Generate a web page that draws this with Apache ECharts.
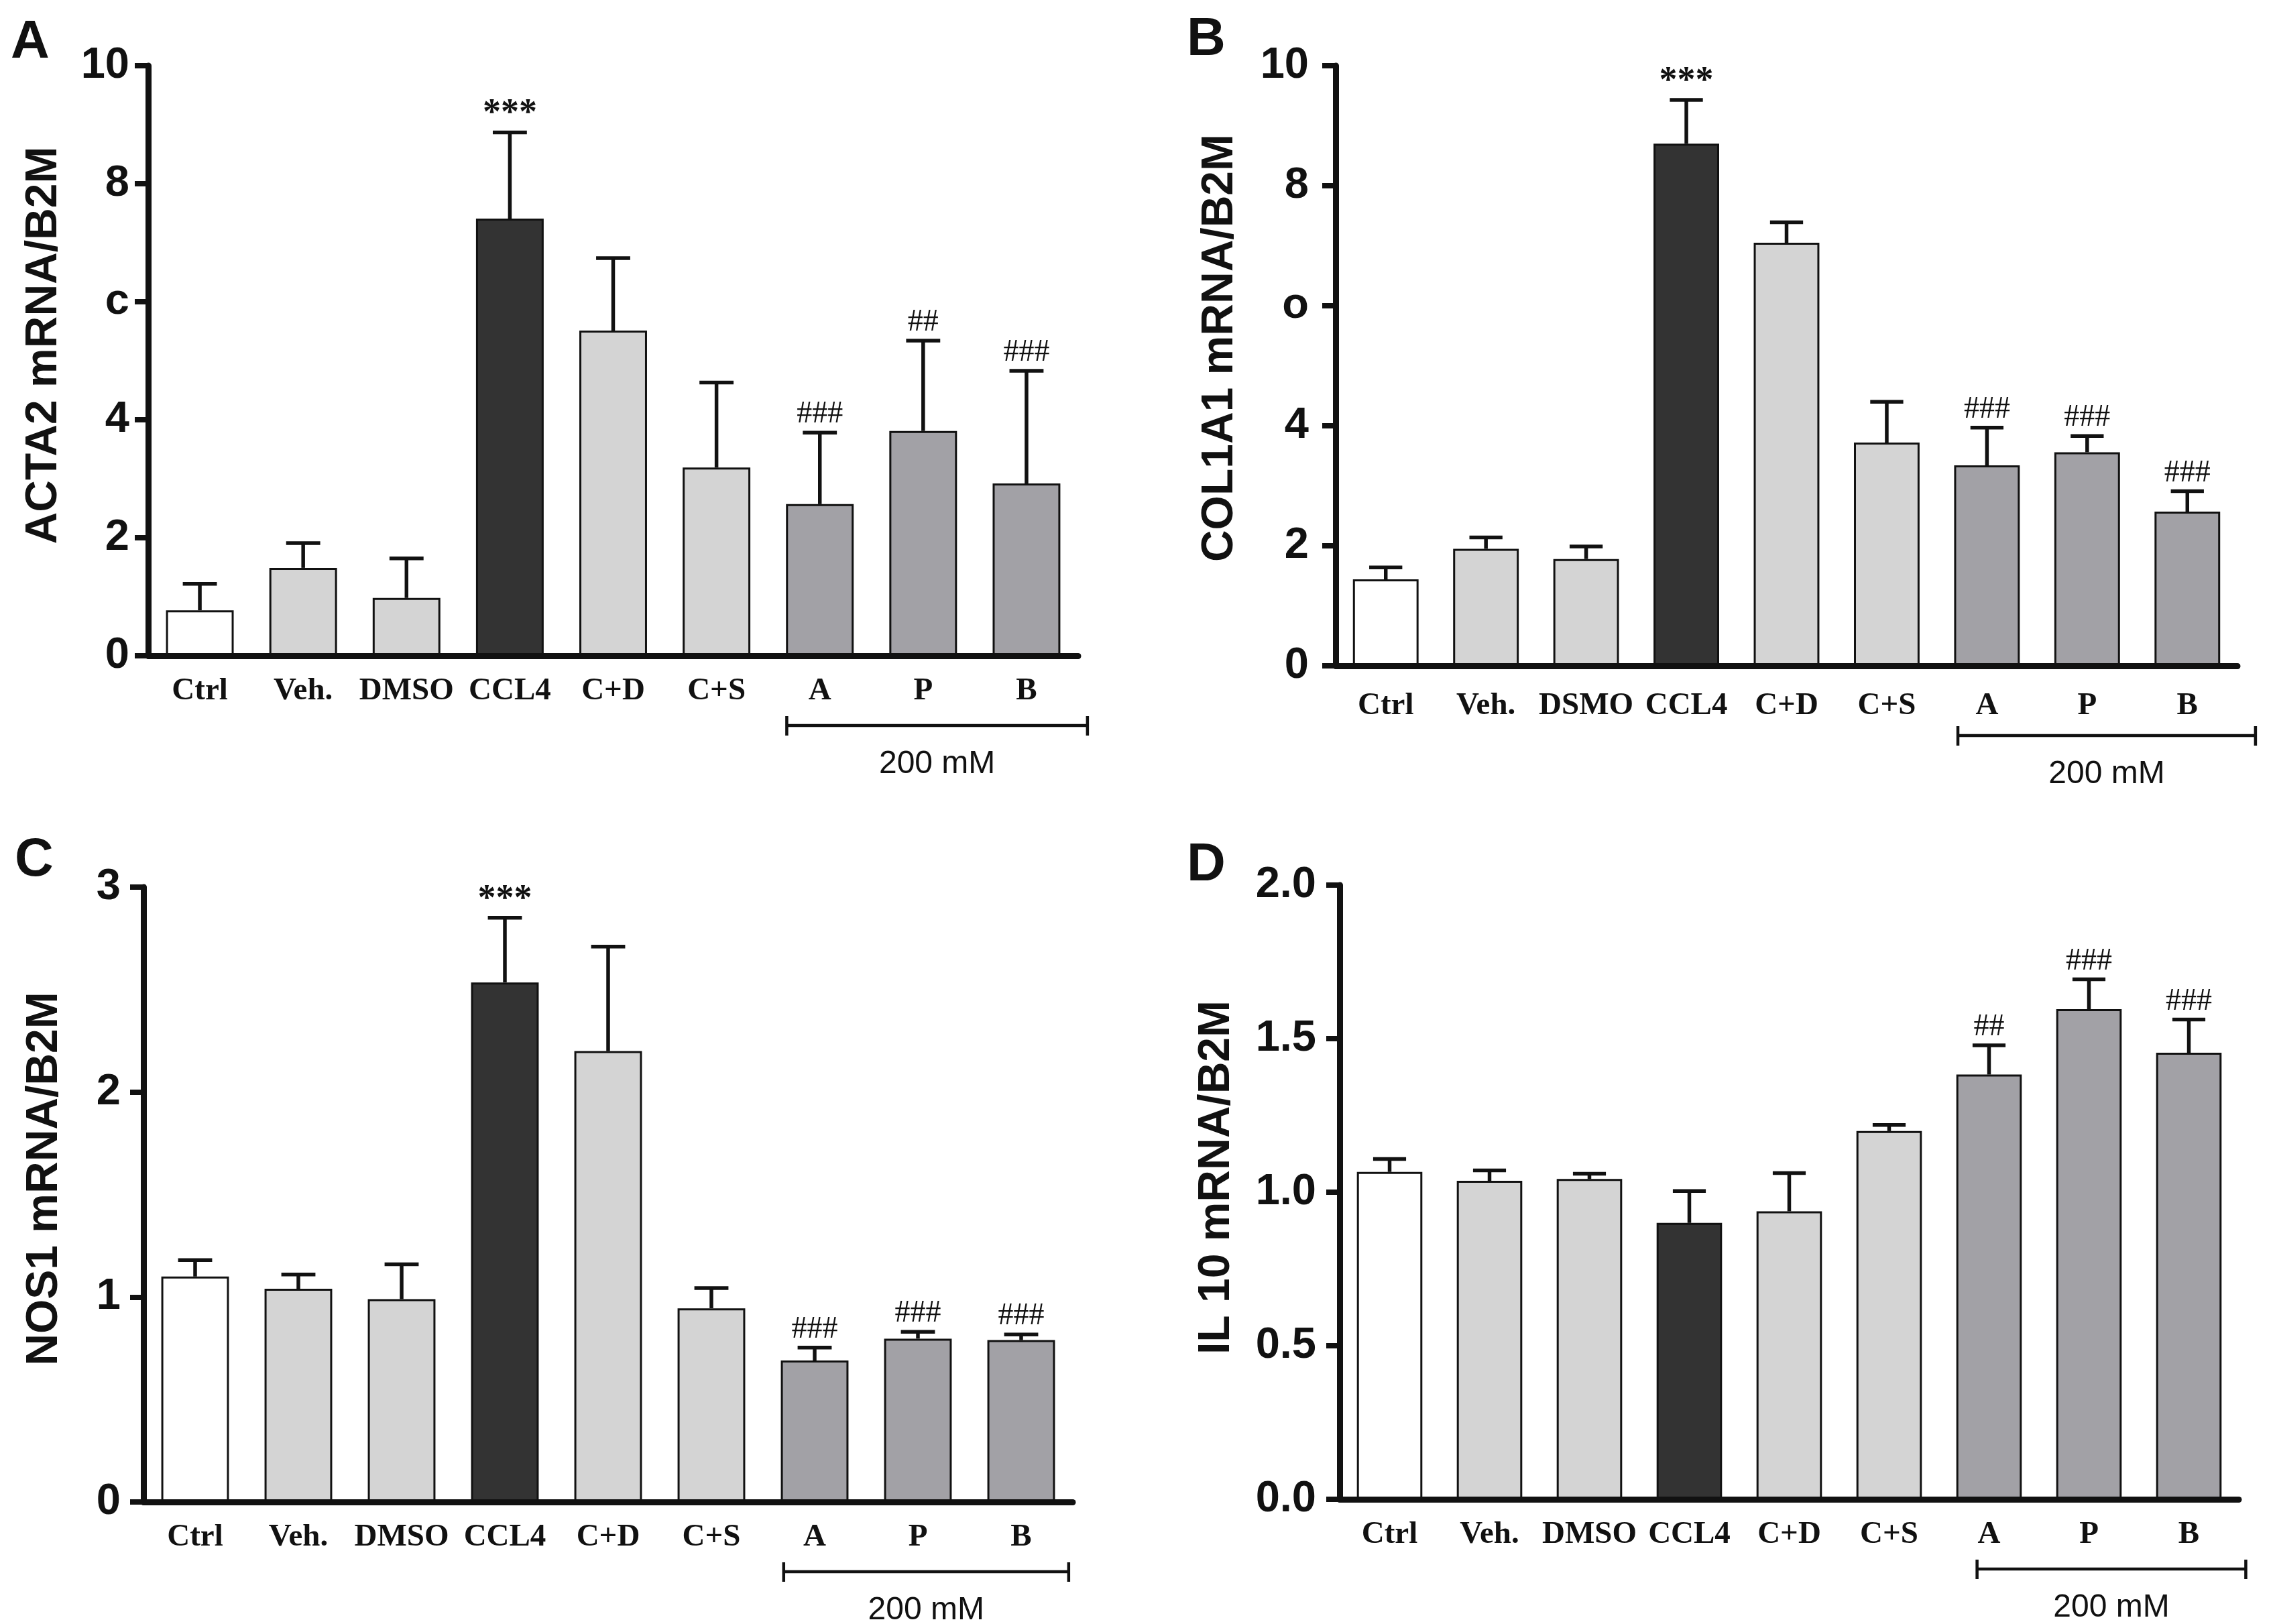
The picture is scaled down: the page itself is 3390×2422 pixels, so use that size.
<!DOCTYPE html>
<html>
<head>
<meta charset="utf-8">
<script src="https://cdn.jsdelivr.net/npm/echarts@6/dist/echarts.min.js"></script>
<style>
  html, body { margin:0; padding:0; background:#ffffff; }
  #chart { width:3390px; height:2422px; }
</style>
</head>
<body>
<div id="chart"></div>
<script>
// ---- data (mean, top of SEM bar, significance mark) ----
const GROUPS_ACD = ['Ctrl','Veh.','DMSO','CCL4','C+D','C+S','A','P','B'];
const GROUPS_B   = ['Ctrl','Veh.','DSMO','CCL4','C+D','C+S','A','P','B'];

const ACTA2_MEAN = [0.77, 1.49, 0.98, 7.41, 5.51, 3.19, 2.57, 3.81, 2.92];
const ACTA2_TOP  = [1.22, 1.91, 1.65, 8.87, 6.74, 4.63, 3.78, 5.34, 4.83];
const ACTA2_MARK = ['', '', '', '***', '', '', '###', '##', '###'];

const COL1A1_MEAN = [1.44, 1.95, 1.78, 8.70, 7.05, 3.72, 3.34, 3.56, 2.57];
const COL1A1_TOP  = [1.64, 2.14, 1.99, 9.43, 7.39, 4.40, 3.97, 3.83, 2.91];
const COL1A1_MARK = ['', '', '', '***', '', '', '###', '###', '###'];

const NOS1_MEAN = [1.10, 1.04, 0.99, 2.535, 2.20, 0.945, 0.69, 0.797, 0.79];
const NOS1_TOP  = [1.18, 1.11, 1.16, 2.85, 2.71, 1.044, 0.753, 0.83, 0.817];
const NOS1_MARK = ['', '', '', '***', '', '', '###', '###', '###'];

const IL10_MEAN = [1.066, 1.037, 1.043, 0.90, 0.938, 1.199, 1.383, 1.596, 1.454];
const IL10_TOP  = [1.108, 1.071, 1.06, 1.004, 1.062, 1.219, 1.478, 1.693, 1.562];
const IL10_MARK = ['', '', '', '', '', '', '##', '###', '###'];

// ---- styling ----
const FILLS = ['#ffffff','#d4d4d4','#d4d4d4','#333333','#d4d4d4','#d4d4d4','#a2a1a6','#a2a1a6','#a2a1a6'];
const INK = '#111111';
const SANS = "'Liberation Sans', Arial, sans-serif";
const SERIF = "'Liberation Serif', 'Times New Roman', serif";

const PANELS = [
  { letter:'A', lx:16, ly:64, title:'ACTA2 mRNA/B2M', nx:66, ny:515,
    groups:GROUPS_ACD, mean:ACTA2_MEAN, top:ACTA2_TOP, mark:ACTA2_MARK,
    grid:{left:221, top:98, width:1387, height:880}, max:10, interval:2,
    fmt:v => v === 6 ? 'c' : String(v), ymargin:28, xmargin:29, br:[-0.32, 0.59] },
  { letter:'B', lx:1770, ly:60, title:'COL1A1 mRNA/B2M', nx:1820, ny:519,
    groups:GROUPS_B, mean:COL1A1_MEAN, top:COL1A1_TOP, mark:COL1A1_MARK,
    grid:{left:1992, top:98, width:1345, height:895}, max:10, interval:2,
    fmt:v => v === 6 ? 'o' : String(v), ymargin:40, xmargin:36, br:[-0.29, 0.68] },
  { letter:'C', lx:22, ly:1284, title:'NOS1 mRNA/B2M', nx:67, ny:1758,
    groups:GROUPS_ACD, mean:NOS1_MEAN, top:NOS1_TOP, mark:NOS1_MARK,
    grid:{left:214, top:1323, width:1386, height:917}, max:3, interval:1,
    fmt:v => String(v), ymargin:34, xmargin:29, br:[-0.30, 0.46] },
  { letter:'D', lx:1770, ly:1291, title:'IL 10 mRNA/B2M', nx:1815, ny:1756,
    groups:GROUPS_ACD, mean:IL10_MEAN, top:IL10_TOP, mark:IL10_MARK,
    grid:{left:1998, top:1320, width:1341, height:916}, max:2, interval:0.5,
    fmt:v => v.toFixed(1), ymargin:35, xmargin:29, br:[-0.12, 0.57] }
];

function errorBars(marks){
  return function(params, api){
    const x = api.value(0);
    const p0 = api.coord([x, api.value(1)]);
    const p1 = api.coord([x, api.value(2)]);
    const half = api.size([1, 0])[0] * 0.165;
    const st = { stroke:INK, lineWidth:5.5, fill:null };
    const kids = [
      { type:'line', shape:{x1:p0[0], y1:p0[1], x2:p1[0], y2:p1[1]}, style:st },
      { type:'line', shape:{x1:p1[0]-half, y1:p1[1], x2:p1[0]+half, y2:p1[1]}, style:st }
    ];
    const mk = marks[params.dataIndex];
    if (mk) {
      const star = mk.indexOf('*') >= 0;
      kids.push({ type:'text', style:{
        text:mk, x:p1[0], y:p1[1] - (star ? 0 : 4), fill:INK,
        font:(star ? 'bold 54px ' : '46px ') + SERIF,
        textAlign:'center', textVerticalAlign:'bottom' } });
    }
    return { type:'group', children:kids };
  };
}

function bracket(p){
  return function(params, api){
    const ia = p.groups.indexOf('A'), ib = p.groups.indexOf('B');
    const pa = api.coord([ia, 0]), pb = api.coord([ib, 0]);
    const bw = api.size([1, 0])[0];
    const x1 = pa[0] + p.br[0]*bw, x2 = pb[0] + p.br[1]*bw, y = pa[1] + 104;
    const st = { stroke:INK, lineWidth:4.5 };
    return { type:'group', children:[
      { type:'line', shape:{x1:x1, y1:y, x2:x2, y2:y}, style:st },
      { type:'line', shape:{x1:x1, y1:y-14, x2:x1, y2:y+15}, style:st },
      { type:'line', shape:{x1:x2, y1:y-14, x2:x2, y2:y+15}, style:st },
      { type:'text', style:{ text:'200 mM', x:(x1+x2)/2, y:y+58, fill:INK,
        font:'48px ' + SANS, textAlign:'center', textVerticalAlign:'middle' } }
    ]};
  };
}

const option = {
  backgroundColor:'#ffffff',
  animation:false,
  grid:[], xAxis:[], yAxis:[], series:[], graphic:[]
};

PANELS.forEach((p, k) => {
  option.grid.push(p.grid);
  option.xAxis.push({
    type:'category', gridIndex:k, data:p.groups, z:5,
    axisLine:{ lineStyle:{ color:INK, width:9 } },
    axisTick:{ alignWithLabel:true, length:22, lineStyle:{ color:INK, width:8 } },
    axisLabel:{ color:INK, fontFamily:SERIF, fontWeight:'bold', fontSize:47, margin:p.xmargin, interval:0 }
  });
  option.yAxis.push({
    type:'value', gridIndex:k, min:0, max:p.max, interval:p.interval, z:5,
    splitLine:{ show:false },
    axisLine:{ show:true, lineStyle:{ color:INK, width:9 } },
    axisTick:{ show:true, length:20, lineStyle:{ color:INK, width:8 } },
    axisLabel:{ color:INK, fontFamily:SANS, fontWeight:'bold', fontSize:65, margin:p.ymargin, formatter:p.fmt }
  });
  option.series.push({
    type:'bar', xAxisIndex:k, yAxisIndex:k, barWidth:'65.5%', z:2,
    data:p.mean.map((v, i) => ({ value:v, itemStyle:{ color:FILLS[i], borderColor:INK, borderWidth:3 } }))
  });
  option.series.push({
    type:'custom', xAxisIndex:k, yAxisIndex:k, z:3, clip:false,
    renderItem:errorBars(p.mark),
    data:p.mean.map((v, i) => [i, v, p.top[i]])
  });
  option.series.push({
    type:'custom', xAxisIndex:k, yAxisIndex:k, z:3, clip:false,
    renderItem:bracket(p), data:[[0, 0]]
  });
  option.graphic.push({
    type:'text', x:p.lx, y:p.ly,
    style:{ text:p.letter, fill:INK, font:'bold 80px ' + SANS, textAlign:'left', textVerticalAlign:'middle' }
  });
  option.graphic.push({
    type:'text', x:p.nx, y:p.ny, rotation:Math.PI/2,
    style:{ text:p.title, fill:INK, font:'bold 66px ' + SANS, textAlign:'center', textVerticalAlign:'middle' }
  });
});

const chart = echarts.init(document.getElementById('chart'), null, { renderer:'canvas' });
chart.setOption(option);
</script>
</body>
</html>
